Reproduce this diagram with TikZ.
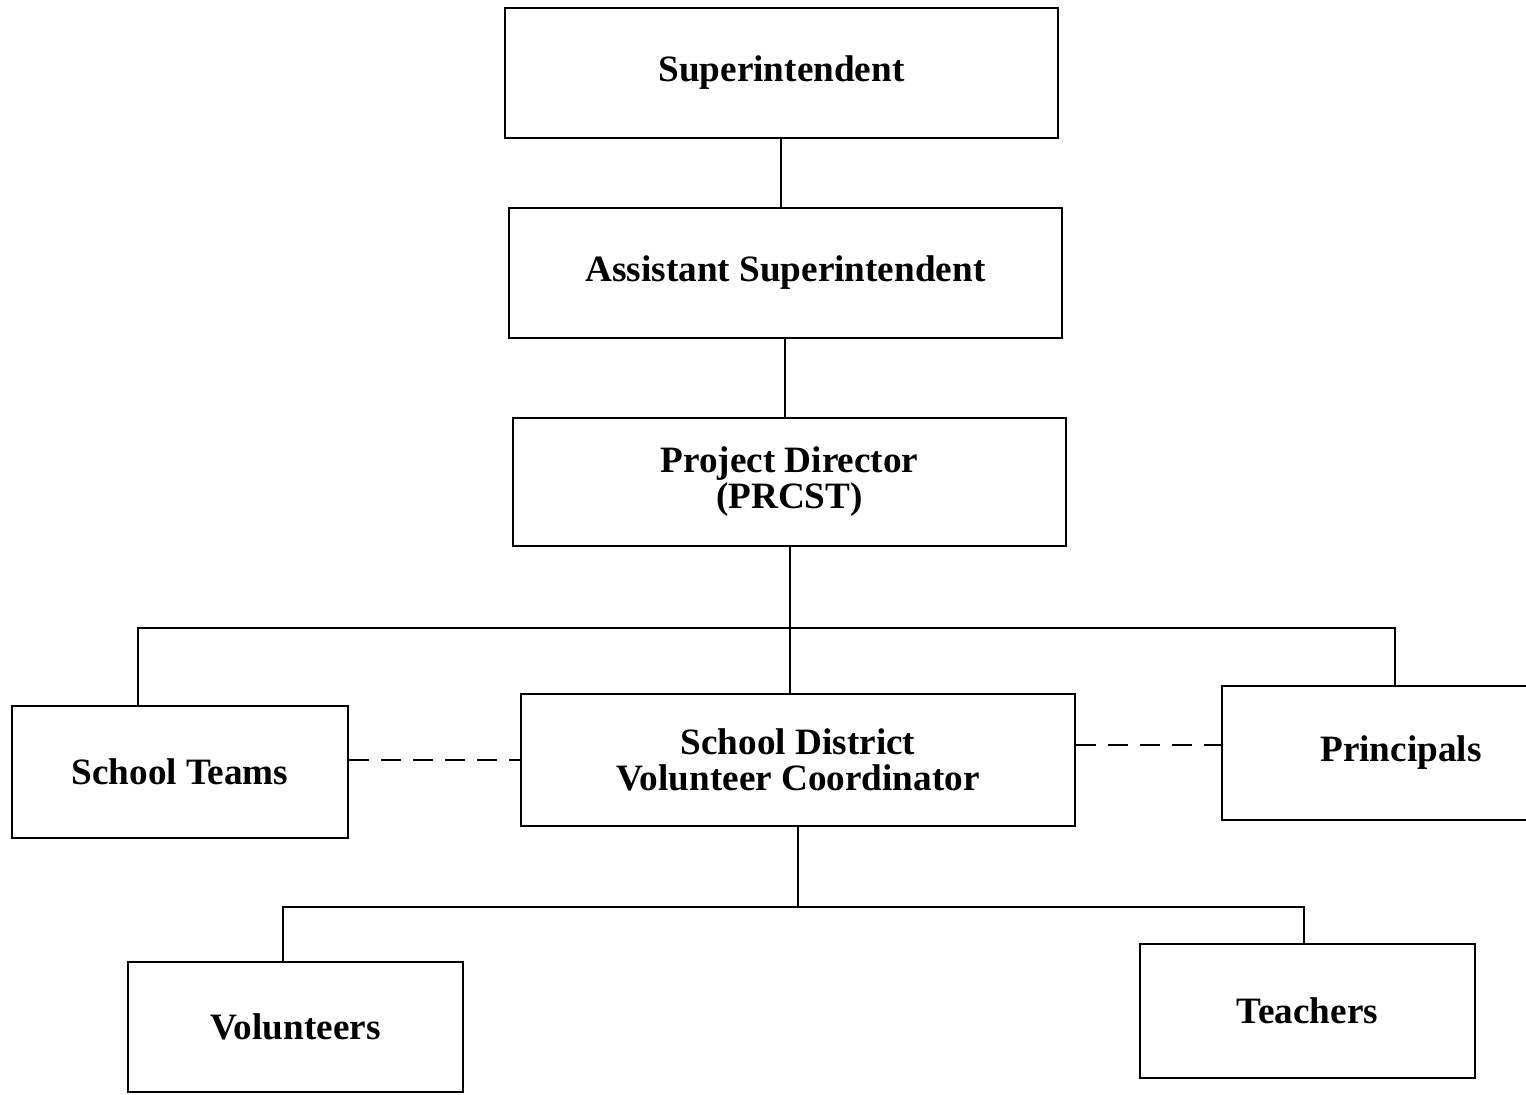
\documentclass[tikz,border=0pt]{standalone}
\usepackage{fontspec}
\setmainfont{Liberation Serif}
\begin{document}
\begin{tikzpicture}[x=0.5pt,y=-0.5pt,
  box/.style={draw,line width=1pt,align=center,font=\bfseries\fontsize{18.6}{18}\selectfont,inner sep=0pt},
  link/.style={line width=1pt},
  dashlink/.style={line width=1pt,dash pattern=on 10pt off 6pt}]
\useasboundingbox (0,0) rectangle (1526,1094);
\node[box,minimum width=276.5pt,minimum height=65pt] (sup) at (781.5,73) {Superintendent};
\node[box,minimum width=276.5pt,minimum height=65pt] (asst) at (785.5,273) {Assistant Superintendent};
\node[box,minimum width=276.5pt,minimum height=64pt] (pd) at (789.5,482) {Project Director\\(PRCST)};
\node[box,minimum width=168pt,minimum height=66pt] (st) at (180,772) {School Teams};
\node[box,minimum width=277pt,minimum height=66pt] (vc) at (798,760) {School District\\Volunteer Coordinator};
\node[box,minimum width=159pt,minimum height=67pt,text width=150pt] (pr) at (1381,753) {\hspace*{20pt}Principals};
\node[box,minimum width=167.5pt,minimum height=65pt] (vol) at (295.5,1027) {Volunteers};
\node[box,minimum width=167.5pt,minimum height=67pt] (tea) at (1307.5,1011) {Teachers};
\coordinate (j1) at (781,0);
\coordinate (j2) at (785,0);
\coordinate (bl) at (138,628);
\coordinate (br) at (1395,628);
\coordinate (bbl) at (283,907);
\coordinate (bbr) at (1304,907);
\draw[link] (j1 |- sup.south) -- (j1 |- asst.north);
\draw[link] (j2 |- asst.south) -- (j2 |- pd.north);
\draw[link] (pd.south) -- (pd.south |- vc.north);
\draw[link] (bl |- st.north) -- (bl) -- (br) -- (br |- pr.north);
\draw[link] (vc.south) -- (vc.south |- bbl);
\draw[link] (bbl |- vol.north) -- (bbl) -- (bbr) -- (bbr |- tea.north);
\draw[dashlink] (st.east |- 0,760) -- (vc.west);
\draw[dashlink] (vc.east |- 0,745) -- (pr.west |- 0,745);
\end{tikzpicture}
\end{document}
